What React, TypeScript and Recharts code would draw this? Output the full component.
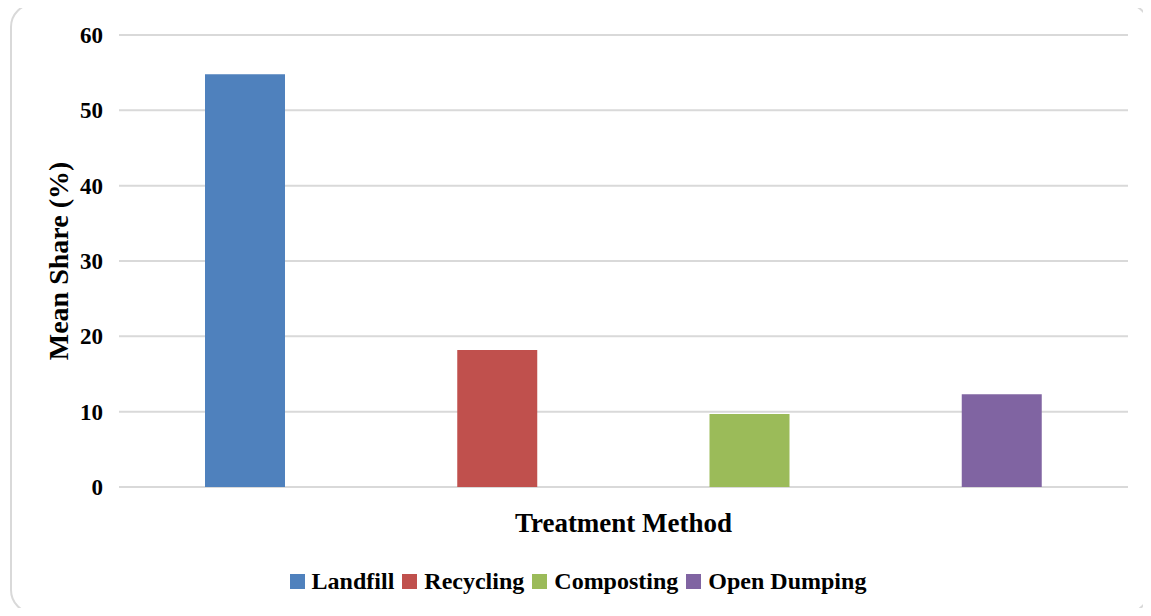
import { BarChart, Bar, XAxis, YAxis, CartesianGrid, Legend } from "recharts";

const methods = ["Landfill", "Recycling", "Composting", "Open Dumping"];
const meanShare = [54.8, 18.2, 9.7, 12.3];
const barColors = ["#4F81BD", "#C0504D", "#9BBB59", "#8064A2"];
const yTicks = [0, 10, 20, 30, 40, 50, 60];

const data = methods.map((m, i) => ({ method: m, [m]: meanShare[i] }));

const FONT = '"Liberation Serif", "Times New Roman", serif';

function LegendContent() {
  return (
    <div
      style={{
        display: "flex",
        justifyContent: "center",
        alignItems: "center",
        fontFamily: FONT,
        fontWeight: "bold",
        fontSize: 24,
        color: "#000",
        lineHeight: "28px",
        paddingLeft: 36,
      }}
    >
      {methods.map((m, i) => (
        <div key={m} style={{ display: "flex", alignItems: "center", marginRight: 8 }}>
          <span
            style={{
              display: "inline-block",
              width: 15,
              height: 15,
              background: barColors[i],
              marginRight: 7,
            }}
          />
          <span>{m}</span>
        </div>
      ))}
    </div>
  );
}

export default function App() {
  return (
    <div
      style={{
        position: "relative",
        width: 1151,
        height: 616,
        margin: -8,
        background: "#fff",
      }}
    >
      <div
        style={{
          position: "absolute",
          left: 10,
          top: 3,
          width: 1136,
          height: 607,
          border: "2px solid #d9d9d9",
          borderRadius: 24,
        }}
      />
      <BarChart
        width={1151}
        height={616}
        data={data}
        margin={{ top: 35, right: 23, left: 0, bottom: 21 }}
        style={{ position: "absolute", left: 0, top: 0 }}
      >
        <CartesianGrid vertical={false} stroke="#d9d9d9" strokeWidth={2} />
        <XAxis
          dataKey="method"
          tick={false}
          axisLine={false}
          tickLine={false}
          height={80}
          label={{
            value: "Treatment Method",
            position: "insideTop",
            offset: 26,
            style: { fontFamily: FONT, fontWeight: "bold", fontSize: 27, fill: "#000" },
          }}
        />
        <YAxis
          domain={[0, 60]}
          ticks={yTicks}
          width={119}
          axisLine={false}
          tickLine={false}
          tickSize={0}
          tickMargin={16}
          tick={{ fontFamily: FONT, fontWeight: "bold", fontSize: 23, fill: "#000" }}
          label={{
            value: "Mean Share (%)",
            angle: -90,
            position: "insideLeft",
            offset: 58,
            style: {
              fontFamily: FONT,
              fontWeight: "bold",
              fontSize: 28,
              fill: "#000",
              textAnchor: "middle",
            },
          }}
        />
        <Legend verticalAlign="bottom" content={<LegendContent />} />
        {methods.map((m, i) => (
          <Bar
            key={m}
            dataKey={m}
            stackId="a"
            fill={barColors[i]}
            barSize={80}
            isAnimationActive={false}
          />
        ))}
      </BarChart>
    </div>
  );
}
